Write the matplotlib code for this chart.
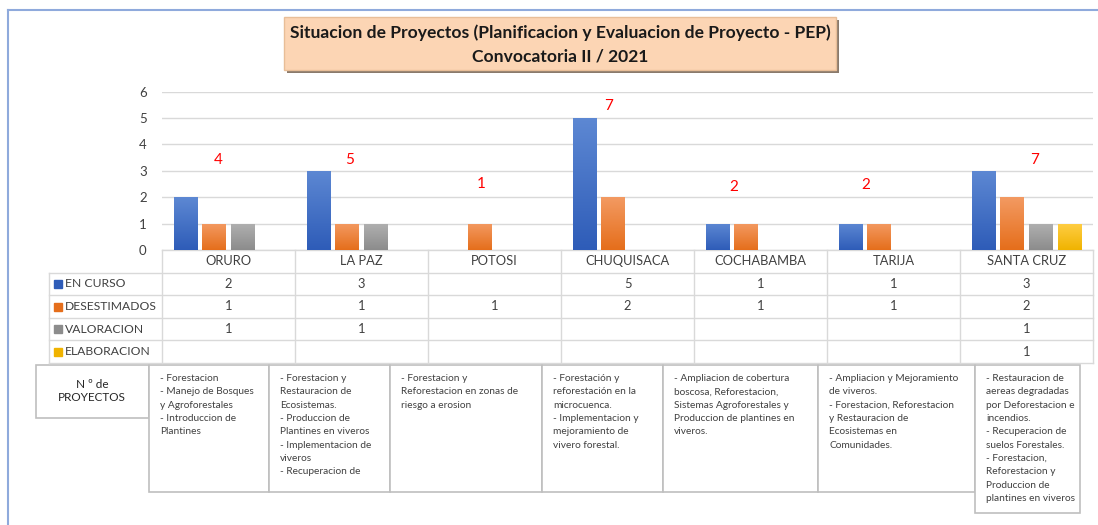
import numpy as np
import matplotlib.pyplot as plt
from matplotlib.patches import Rectangle
from matplotlib.colors import LinearSegmentedColormap

plt.rcParams['font.family'] = ['Lato', 'DejaVu Sans']

# datos
departamentos = ['ORURO', 'LA PAZ', 'POTOSI', 'CHUQUISACA', 'COCHABAMBA', 'TARIJA', 'SANTA CRUZ']
estados = ['EN CURSO', 'DESESTIMADOS', 'VALORACION', 'ELABORACION']
en_curso = [2, 3, None, 5, 1, 1, 3]
desestimados = [1, 1, 1, 2, 1, 1, 2]
valoracion = [1, 1, None, None, None, None, 1]
elaboracion = [None, None, None, None, None, None, 1]

descripciones = [
    "- Forestacion\n- Manejo de Bosques\ny Agroforestales\n- Introduccion de\nPlantines",
    "- Forestacion y\nRestauracion de\nEcosistemas.\n- Produccion de\nPlantines en viveros\n- Implementacion de\nviveros\n- Recuperacion de",
    "- Forestacion y\nReforestacion en zonas de\nriesgo a erosion",
    "- Forestación y\nreforestación en la\nmicrocuenca.\n- Implementacion y\nmejoramiento de\nvivero forestal.",
    "- Ampliacion de cobertura\nboscosa, Reforestacion,\nSistemas Agroforestales y\nProduccion de plantines en\nviveros.",
    "- Ampliacion y Mejoramiento\nde viveros.\n- Forestacion, Reforestacion\ny Restauracion de\nEcosistemas en\nComunidades.",
    "- Restauracion de\naereas degradadas\npor Deforestacion e\nincendios.\n- Recuperacion de\nsuelos Forestales.\n- Forestacion,\nReforestacion y\nProduccion de\nplantines en viveros",
]

series = [en_curso, desestimados, valoracion, elaboracion]
totales = [sum(v[i] or 0 for v in series) for i in range(len(departamentos))]

# estilo / posiciones
colores = [('#2E5CB8', '#5D88D3'), ('#E56E1B', '#F39A62'), ('#8C8C8C', '#B0B0B0'), ('#F0B300', '#FFCE45')]
total_dx = [-0.08, -0.09, -0.10, -0.14, -0.20, -0.21, 0.06]
total_y = [3.42, 3.42, 2.51, 5.47, 2.39, 2.47, 3.42]
caja_izq = [149, 269, 390, 542, 663, 818, 975]
caja_der = [269, 390, 542, 663, 818, 975, 1080]
caja_inf = [492, 492, 492, 492, 492, 492, 513]

W, H = 1098, 525
fig = plt.figure(figsize=(W / 100, H / 100), dpi=100)

bg = fig.add_axes([0, 0, 1, 1], zorder=0)
bg.set_xlim(0, W)
bg.set_ylim(H, 0)
bg.axis('off')

ax = fig.add_axes([162 / W, (H - 250) / H, 931 / W, (250 - 91.7) / H], zorder=1)
ax.patch.set_alpha(0)

x = np.arange(len(departamentos))
paso, ancho = 0.216, 0.177
grad = np.linspace(0, 1, 256).reshape(-1, 1)
for k, vals in enumerate(series):
    alturas = [v if v is not None else 0 for v in vals]
    bars = ax.bar(x + (k - 1.5) * paso, alturas, ancho, color=colores[k][0], zorder=2)
    cmap = LinearSegmentedColormap.from_list('g%d' % k, colores[k])
    for r in bars:
        if r.get_height() > 0:
            im = ax.imshow(grad, extent=[r.get_x(), r.get_x() + r.get_width(), 0, r.get_height()],
                           aspect='auto', cmap=cmap, origin='lower', zorder=3)
            im.set_clip_path(r)

for i, t in enumerate(totales):
    ax.text(x[i] + total_dx[i], total_y[i], str(t), color='#FF0000', fontsize=11,
            ha='center', va='center', zorder=4)

ax.set_xlim(-0.5, len(departamentos) - 0.5)
ax.set_ylim(0, 6)
ax.set_yticks(range(7))
ax.tick_params(axis='y', length=0, pad=11, labelsize=9.5, labelcolor='#404040')
ax.set_xticks([])
ax.yaxis.grid(True, color='#D9D9D9', lw=1)
ax.set_axisbelow(True)
for s in ax.spines.values():
    s.set_visible(False)

# tabla de datos bajo el grafico
fig.canvas.draw()
bordes = [ax.transData.transform((i - 0.5, 0))[0] for i in range(len(departamentos) + 1)]
y0 = H - ax.transData.transform((0, 0))[1]
fila_h = 22.6
lc = '#D9D9D9'
izq_tabla = 49
bg.plot([bordes[0], bordes[-1]], [y0, y0], color=lc, lw=1)
for j in range(5):
    yy = y0 + fila_h * (j + 1)
    bg.plot([izq_tabla, bordes[-1]], [yy, yy], color=lc, lw=1)
for xb in bordes:
    bg.plot([xb, xb], [y0, y0 + fila_h * 5], color=lc, lw=1)
bg.plot([izq_tabla, izq_tabla], [y0 + fila_h, y0 + fila_h * 5], color=lc, lw=1)

for i, d in enumerate(departamentos):
    xc = (bordes[i] + bordes[i + 1]) / 2
    bg.text(xc, y0 + fila_h / 2, d, ha='center', va='center', fontsize=9.3, color='#404040')
    for k, vals in enumerate(series):
        if vals[i] is not None:
            bg.text(xc, y0 + fila_h * (k + 1.5), str(vals[i]), ha='center', va='center',
                    fontsize=9.3, color='#404040')
for k, e in enumerate(estados):
    yc = y0 + fila_h * (k + 1.5)
    bg.add_patch(Rectangle((54, yc - 4), 8, 8, color=colores[k][0]))
    bg.text(65, yc, e, ha='left', va='center', fontsize=8.7, color='#404040')

# cuadros de texto
bg.add_patch(Rectangle((36, 365), 113, 53, fc='white', ec='#BFBFBF', lw=1.2))
bg.text(92, 391, 'N º de\nPROYECTOS', ha='center', va='center', fontsize=8.5,
        color='#262626', linespacing=1.3)
for i, txt in enumerate(descripciones):
    bg.add_patch(Rectangle((caja_izq[i], 365), caja_der[i] - caja_izq[i], caja_inf[i] - 365,
                           fc='white', ec='#BFBFBF', lw=1.2))
    bg.text(caja_izq[i] + 11, 374, txt, ha='left', va='top', fontsize=7.3, color='#404040',
            linespacing=1.62)

# titulo
bg.add_patch(Rectangle((287, 20), 552, 53, fc='#8A7A6C', ec='none'))
bg.add_patch(Rectangle((284, 17), 552, 53, fc='#FCD5B4', ec='#E8BE98', lw=1))
bg.text(560, 33, 'Situacion de Proyectos (Planificacion y Evaluacion de Proyecto - PEP)',
        ha='center', va='center', fontsize=12.6, fontweight='bold', color='#1A1A1A')
bg.text(560, 57, 'Convocatoria II / 2021', ha='center', va='center', fontsize=12.6,
        fontweight='bold', color='#1A1A1A')

# marco de la hoja
bg.plot([8, W], [10, 10], color='#8FAADC', lw=1.5)
bg.plot([8, 8], [10, H], color='#8FAADC', lw=1.5)

fig.savefig('out.png', dpi=100)
